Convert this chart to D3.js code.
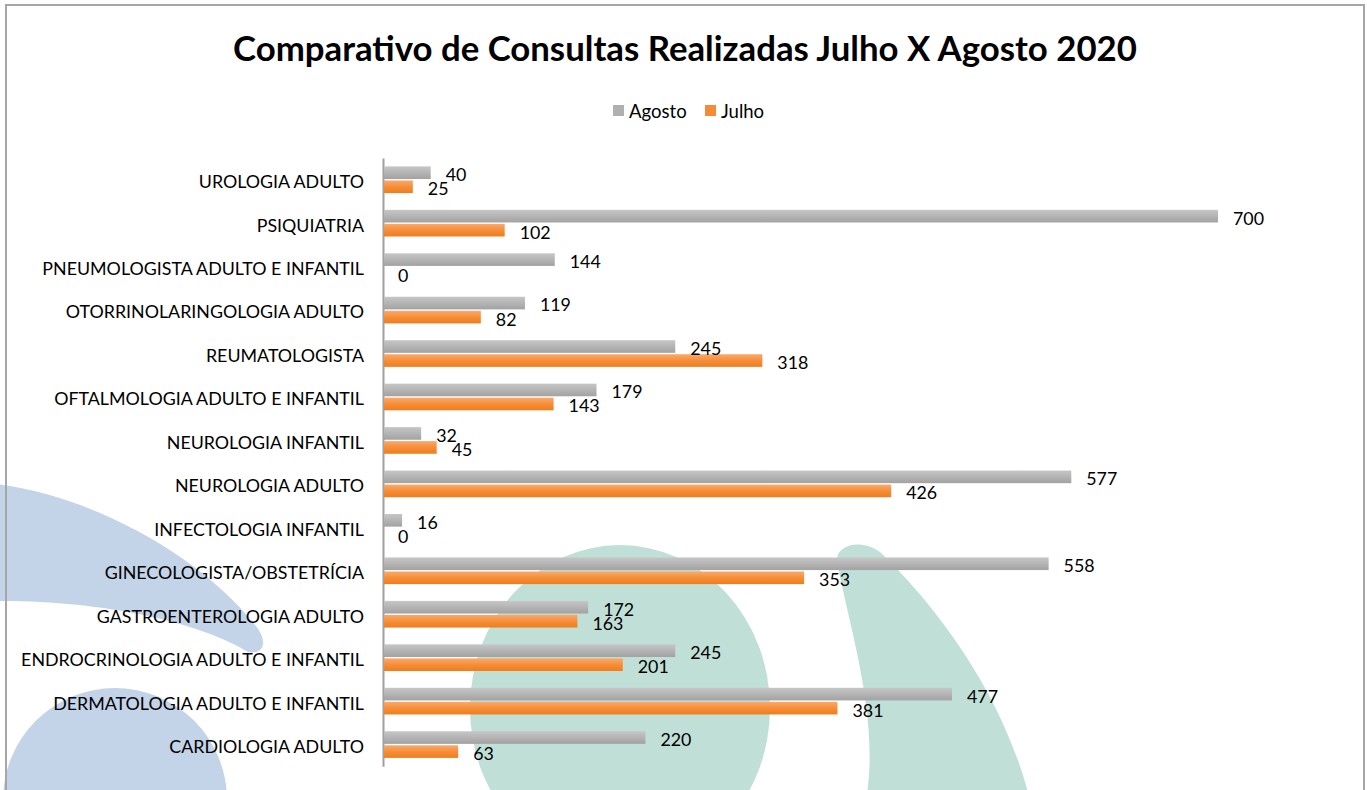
<!DOCTYPE html>
<html>
<head>
<meta charset="utf-8">
<script src="https://cdn.jsdelivr.net/npm/d3@7"></script>
<style>
  html, body { margin: 0; padding: 0; background: #fff; }
  svg { display: block; }
</style>
</head>
<body>
<svg id="chart" width="1367" height="790"></svg>
<script>
const title = "Comparativo de Consultas Realizadas Julho X Agosto 2020";
const categories = [
  "UROLOGIA ADULTO",
  "PSIQUIATRIA",
  "PNEUMOLOGISTA ADULTO E INFANTIL",
  "OTORRINOLARINGOLOGIA ADULTO",
  "REUMATOLOGISTA",
  "OFTALMOLOGIA ADULTO E INFANTIL",
  "NEUROLOGIA INFANTIL",
  "NEUROLOGIA ADULTO",
  "INFECTOLOGIA INFANTIL",
  "GINECOLOGISTA/OBSTETRÍCIA",
  "GASTROENTEROLOGIA ADULTO",
  "ENDROCRINOLOGIA ADULTO E INFANTIL",
  "DERMATOLOGIA ADULTO E INFANTIL",
  "CARDIOLOGIA ADULTO"
];
const seriesNames = ["Agosto", "Julho"];
const agosto = [40, 700, 144, 119, 245, 179, 32, 577, 16, 558, 172, 245, 477, 220];
const julho  = [25, 102, 0, 82, 318, 143, 45, 426, 0, 353, 163, 201, 381, 63];
const xDomain = [0, 800];

const FONT = "Lato, 'Open Sans', sans-serif";
const svg = d3.select("#chart");
const W = 1367, H = 790;

// gradients
const defs = svg.append("defs");
function grad(id, stops) {
  const g = defs.append("linearGradient").attr("id", id)
    .attr("x1", 0).attr("y1", 0).attr("x2", 0).attr("y2", 1);
  stops.forEach(s => g.append("stop").attr("offset", s[0]).attr("stop-color", s[1]));
}
grad("gAgosto", [["0%", "#c6c6c6"], ["100%", "#a2a2a2"]]);
grad("gJulho", [["0%", "#f9a96d"], ["50%", "#f68e38"], ["100%", "#ef7d1c"]]);
const fills = { Agosto: "url(#gAgosto)", Julho: "url(#gJulho)" };
const legendFills = { Agosto: "#b0b0b0", Julho: "#f58b36" };

// background
svg.append("rect").attr("width", W).attr("height", H).attr("fill", "#fff");
const bg = svg.append("g");
const blue = "#c3d3e8", green = "#c0e0d7";
bg.append("path").attr("fill", blue)
  .attr("d", "M -5,484 C 90,495 200,555 255,625 C 268,640 265,655 248,652 C 200,622 100,600 -5,601 Z");
bg.append("circle").attr("fill", blue).attr("cx", 115).attr("cy", 800).attr("r", 112);
bg.append("ellipse").attr("fill", green).attr("cx", 620).attr("cy", 708).attr("rx", 150).attr("ry", 163);
bg.append("path").attr("fill", green)
  .attr("d", "M 837,562 C 835,545 860,538 880,552 C 920,590 1000,680 1030,800 L 866,800 C 880,720 850,630 837,562 Z");

// border
svg.append("rect").attr("x", 6).attr("y", 5).attr("width", 1358).attr("height", 800)
  .attr("fill", "none").attr("stroke", "#a6a6a6").attr("stroke-width", 2);

// fit font size helper
function fitSize(text, weight, target) {
  const t = svg.append("text").attr("font-family", FONT).attr("font-weight", weight)
    .attr("font-size", 20).text(text);
  const w = t.node().getComputedTextLength();
  t.remove();
  return 20 * target / w;
}
const longest = "ENDROCRINOLOGIA ADULTO E INFANTIL";
const fs = fitSize(longest, "normal", 343);
const titleFs = fitSize(title, "bold", 904);

// title
svg.append("text").attr("x", 685).attr("y", 61)
  .attr("text-anchor", "middle").attr("font-family", FONT).attr("font-weight", "bold")
  .attr("font-size", titleFs).attr("fill", "#000").text(title);

// legend
const legendPos = { Agosto: [613, 629], Julho: [705, 721] };
const lg = svg.append("g");
seriesNames.forEach(s => {
  lg.append("rect").attr("x", legendPos[s][0]).attr("y", 105).attr("width", 11).attr("height", 11)
    .attr("fill", legendFills[s]);
  lg.append("text").attr("x", legendPos[s][1]).attr("y", 118)
    .attr("font-family", FONT).attr("font-size", fs * 1.04).attr("fill", "#000").text(s);
});

// scales
const x = d3.scaleLinear().domain(xDomain).range([383, 1337.3]);
const y = d3.scaleBand().domain(categories).range([158, 766.3]);
const yInner = d3.scaleBand().domain(seriesNames).range([8.4, y.bandwidth() - 8.4]).paddingInner(0.1);

const rows = categories.map((c, i) => ({ cat: c, Agosto: agosto[i], Julho: julho[i] }));

// axis
const axis = d3.axisLeft(y).tickSize(0).tickSizeOuter(0).tickPadding(19);
const ag = svg.append("g").attr("transform", `translate(${x(0)},0)`).call(axis);
ag.select(".domain").attr("stroke", "#a0a0a0").attr("stroke-width", 2);
ag.selectAll(".tick text").attr("font-family", FONT).attr("font-size", fs)
  .attr("fill", "#000").attr("dy", null).attr("dominant-baseline", null)
  .attr("y", fs * 0.36 + 2);

// bars
const groups = svg.append("g").selectAll("g").data(rows).join("g")
  .attr("transform", d => `translate(0,${y(d.cat)})`);
groups.selectAll("rect").data(d => seriesNames.map(s => ({ s, v: d[s] }))).join("rect")
  .attr("x", x(0) + 1)
  .attr("y", d => yInner(d.s))
  .attr("width", d => Math.max(0, x(d.v) - x(0) - 1))
  .attr("height", yInner.bandwidth())
  .attr("fill", d => fills[d.s]);
groups.selectAll("text").data(d => seriesNames.map(s => ({ s, v: d[s] }))).join("text")
  .attr("x", d => x(d.v) + 15)
  .attr("y", d => yInner(d.s) + yInner.bandwidth() / 2 + 2 + fs * 0.36)
  .attr("font-family", FONT).attr("font-size", fs).attr("fill", "#000")
  .text(d => d.v);
</script>
</body>
</html>
